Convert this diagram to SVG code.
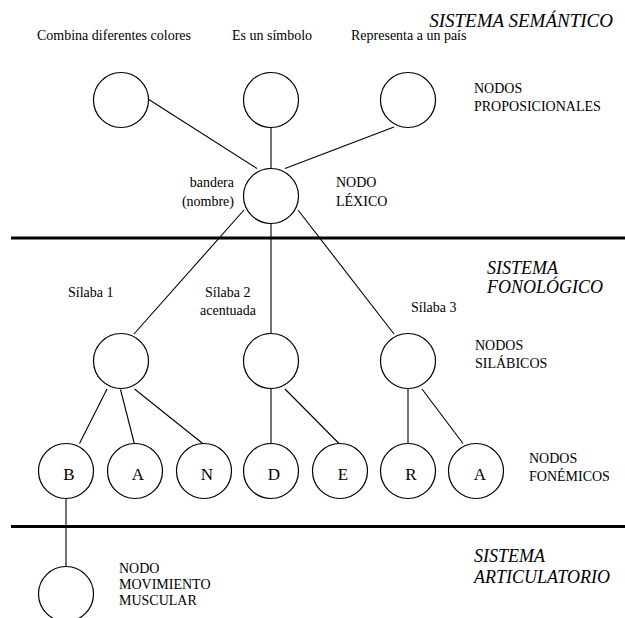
<svg xmlns="http://www.w3.org/2000/svg" width="625" height="618" viewBox="0 0 625 618">
<style>
  text { font-family: "Liberation Serif", "Times New Roman", serif; font-size: 14px; fill: #000; }
  .sys { font-style: italic; font-size: 18px; }
  .big { font-size: 19px; }
  .ph { font-size: 17px; text-anchor: middle; }
  .end { text-anchor: end; }
  circle { fill: #fff; stroke: #000; stroke-width: 1.2; }
  .conn line { stroke: #000; stroke-width: 1.1; }
  .div { stroke: #000; stroke-width: 2.8; }
</style>
<rect width="625" height="618" fill="#fff"/>

<g id="dividers">
  <line class="div" x1="11" y1="238" x2="625" y2="238"/>
  <line class="div" x1="11" y1="526.5" x2="625" y2="526.5"/>
</g>

<g id="connectors" class="conn">
  <line x1="148" y1="99" x2="257" y2="168.5"/>
  <line x1="271" y1="128" x2="271" y2="168.5"/>
  <line x1="394" y1="127" x2="285" y2="168.5"/>
  <line x1="244" y1="210" x2="134" y2="334"/>
  <line x1="271" y1="223.5" x2="271" y2="333.5"/>
  <line x1="298" y1="210" x2="394" y2="334"/>
  <line x1="107" y1="389" x2="79.5" y2="443.5"/>
  <line x1="120.5" y1="389.5" x2="134.3" y2="443.5"/>
  <line x1="134.5" y1="389" x2="202.7" y2="443.5"/>
  <line x1="271" y1="388.5" x2="271" y2="443.5"/>
  <line x1="285" y1="389" x2="339" y2="443.5"/>
  <line x1="408" y1="388.5" x2="408" y2="443.5"/>
  <line x1="422" y1="389" x2="463" y2="443.5"/>
  <line x1="66" y1="498.5" x2="66" y2="566.5"/>
</g>

<g id="titles">
  <text class="sys big end" x="613" y="27">SISTEMA SEMÁNTICO</text>
  <text class="sys" x="487" y="274">SISTEMA</text>
  <text class="sys" x="487" y="293">FONOLÓGICO</text>
  <text class="sys" x="474" y="562">SISTEMA</text>
  <text class="sys" x="474" y="583">ARTICULATORIO</text>
</g>

<g id="node-prop1"><circle cx="121" cy="100" r="27.5"/><text x="37" y="40">Combina diferentes colores</text></g>
<g id="node-prop2"><circle cx="271" cy="100" r="27.5"/><text x="232" y="40">Es un símbolo</text></g>
<g id="node-prop3"><circle cx="408" cy="100" r="27.5"/><text x="351" y="40">Representa a un país</text></g>
<g id="label-prop"><text x="474" y="93">NODOS</text><text x="474" y="111">PROPOSICIONALES</text></g>

<g id="node-lex">
  <circle cx="271" cy="196" r="27.5"/>
  <text class="end" x="234" y="187">bandera</text>
  <text class="end" x="234" y="206">(nombre)</text>
</g>
<g id="label-lex"><text x="336" y="187">NODO</text><text x="336" y="206">LÉXICO</text></g>

<g id="node-syl1"><circle cx="121" cy="361" r="27.5"/><text x="68" y="297">Sílaba 1</text></g>
<g id="node-syl2"><circle cx="271" cy="361" r="27.5"/><text x="205" y="297">Sílaba 2</text><text x="200" y="315">acentuada</text></g>
<g id="node-syl3"><circle cx="408" cy="361" r="27.5"/><text x="411" y="312">Sílaba 3</text></g>
<g id="label-syl"><text x="475" y="350">NODOS</text><text x="475" y="368">SILÁBICOS</text></g>

<g id="node-B"><circle cx="66" cy="471" r="27.5"/><text class="ph" x="69" y="480">B</text></g>
<g id="node-A1"><circle cx="135" cy="471" r="27.5"/><text class="ph" x="138" y="480">A</text></g>
<g id="node-N"><circle cx="204" cy="471" r="27.5"/><text class="ph" x="207" y="480">N</text></g>
<g id="node-D"><circle cx="271" cy="471" r="27.5"/><text class="ph" x="274" y="480">D</text></g>
<g id="node-E"><circle cx="340" cy="471" r="27.5"/><text class="ph" x="343" y="480">E</text></g>
<g id="node-R"><circle cx="408" cy="471" r="27.5"/><text class="ph" x="411" y="480">R</text></g>
<g id="node-A2"><circle cx="476" cy="471" r="27.5"/><text class="ph" x="480" y="480">A</text></g>
<g id="label-fon"><text x="529" y="463">NODOS</text><text x="529" y="481">FONÉMICOS</text></g>

<g id="node-muscle">
  <circle cx="66" cy="594" r="27.5"/>
  <text x="119" y="573">NODO</text>
  <text x="119" y="589">MOVIMIENTO</text>
  <text x="119" y="605">MUSCULAR</text>
</g>
</svg>
